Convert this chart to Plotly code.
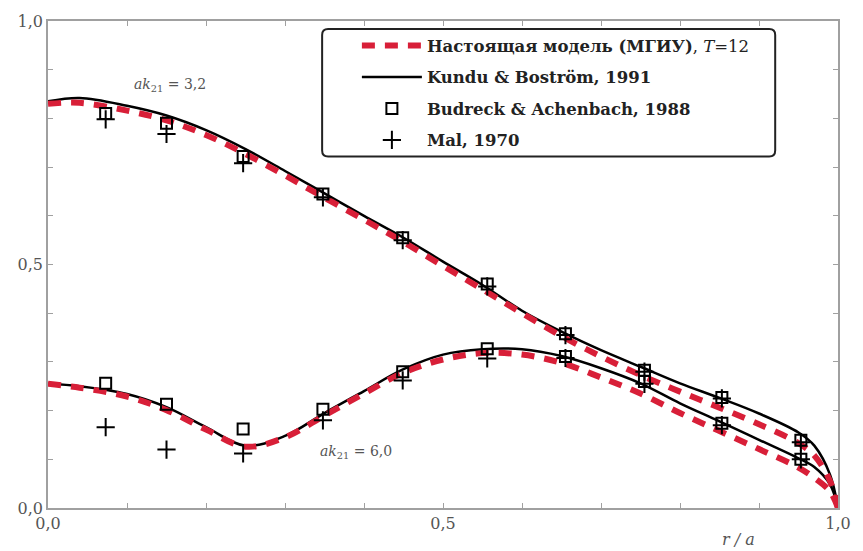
import plotly.graph_objects as go

# ---- data ----
x_curve = [0, 0.04, 0.1, 0.15, 0.2, 0.25, 0.3, 0.35, 0.4, 0.45, 0.5, 0.55, 0.6, 0.65,
           0.7, 0.75, 0.8, 0.85, 0.9, 0.95, 0.97, 0.99, 1.0]

kundu_32 = [0.835, 0.842, 0.826, 0.806, 0.776, 0.737, 0.692, 0.646, 0.600, 0.555, 0.506, 0.458,
            0.405, 0.362, 0.324, 0.290, 0.256, 0.226, 0.194, 0.155, 0.128, 0.068, 0.0]
model_32 = [0.830, 0.832, 0.816, 0.796, 0.766, 0.727, 0.683, 0.637, 0.592, 0.546, 0.497, 0.449,
            0.400, 0.353, 0.311, 0.273, 0.239, 0.206, 0.172, 0.133, 0.108, 0.055, 0.0]

kundu_60 = [0.255, 0.250, 0.234, 0.207, 0.166, 0.128, 0.148, 0.195, 0.240, 0.285, 0.315, 0.326,
            0.326, 0.312, 0.287, 0.256, 0.215, 0.178, 0.140, 0.102, 0.084, 0.048, 0.0]
model_60 = [0.255, 0.247, 0.229, 0.201, 0.161, 0.126, 0.145, 0.190, 0.235, 0.278, 0.305, 0.318,
            0.315, 0.298, 0.268, 0.235, 0.195, 0.158, 0.121, 0.083, 0.062, 0.034, 0.0]

x_pts = [0.073, 0.150, 0.247, 0.348, 0.449, 0.556, 0.655, 0.755, 0.853, 0.953]
budreck_32 = [0.810, 0.790, 0.722, 0.645, 0.555, 0.460, 0.358, 0.283, 0.227, 0.139]
budreck_60 = [0.256, 0.213, 0.162, 0.203, 0.280, 0.327, 0.311, 0.260, 0.174, 0.100]
mal_32 = [0.798, 0.768, 0.708, 0.638, 0.550, 0.455, 0.355, 0.280, 0.225, 0.135]
mal_60 = [0.166, 0.120, 0.112, 0.180, 0.262, 0.307, 0.308, 0.255, 0.170, 0.100]

x_ticks = [0.0, 0.5, 1.0]
x_tick_labels = ["0,0", "0,5", "1,0"]
y_ticks = [0.0, 0.5, 1.0]
y_tick_labels = ["0,0", "0,5", "1,0"]

RED = "#d81f38"
FONT = "DejaVu Serif"
GRAY = "#555555"
AX = "#a0a0a0"

fig = go.Figure()

# black Kundu curves
for i, yv in enumerate([kundu_32, kundu_60]):
    fig.add_trace(go.Scatter(
        x=x_curve, y=yv, mode="lines", line=dict(color="black", width=2.5, shape="spline"),
        name="<b>Kundu & Boström, 1991</b>", legendgroup="b", legendrank=2,
        showlegend=(i == 0)))

# red model curves
for i, yv in enumerate([model_32, model_60]):
    fig.add_trace(go.Scatter(
        x=x_curve, y=yv, mode="lines",
        line=dict(color=RED, width=6, dash="13px,10px", shape="spline"),
        name="<b>Настоящая модель (МГИУ)</b>, <i>T</i>=12", legendgroup="a", legendrank=1,
        showlegend=(i == 0)))

for i, yv in enumerate([budreck_32, budreck_60]):
    fig.add_trace(go.Scatter(
        x=x_pts, y=yv, mode="markers",
        marker=dict(symbol="square-open", size=11, color="black", line=dict(width=2, color="black")),
        name="<b>Budreck & Achenbach, 1988</b>", legendgroup="c", legendrank=3,
        showlegend=(i == 0)))

for i, yv in enumerate([mal_32, mal_60]):
    fig.add_trace(go.Scatter(
        x=x_pts, y=yv, mode="markers",
        marker=dict(symbol="cross-thin-open", size=13, color="black", line=dict(width=2, color="black")),
        name="<b>Mal, 1970</b>", legendgroup="d", legendrank=4,
        showlegend=(i == 0)))

# rounded legend frame
x0, x1, y0, y1 = 0.347, 0.9205, 0.722, 0.9836
rx, ry = 6 / 792, 6 / 489
path = (f"M{x0+rx},{y1} L{x1-rx},{y1} Q{x1},{y1} {x1},{y1-ry} L{x1},{y0+ry} "
        f"Q{x1},{y0} {x1-rx},{y0} L{x0+rx},{y0} Q{x0},{y0} {x0},{y0+ry} "
        f"L{x0},{y1-ry} Q{x0},{y1} {x0+rx},{y1} Z")
fig.add_shape(type="path", path=path, xref="paper", yref="paper",
              line=dict(color="#222222", width=2), fillcolor="white", layer="below")

fig.add_annotation(x=0.155, y=0.869, xref="x", yref="y", showarrow=False,
                   text="<i>ak</i><sub>21</sub> = 3,2",
                   font=dict(family=FONT, size=14, color=GRAY))
fig.add_annotation(x=0.39, y=0.115, xref="x", yref="y", showarrow=False,
                   text="<i>ak</i><sub>21</sub> = 6,0",
                   font=dict(family=FONT, size=14, color=GRAY))
fig.add_annotation(x=0.874, y=-0.064, xref="x", yref="paper", yanchor="middle", showarrow=False,
                   text="<i>r / a</i>", font=dict(family=FONT, size=16, color=GRAY))

axis_common = dict(showgrid=False, zeroline=False, showline=True, linecolor=AX, linewidth=1.5,
                   mirror="ticks", ticks="inside", tickcolor=AX, ticklen=5, tickwidth=1,
                   tickfont=dict(family=FONT, size=16, color=GRAY))

tv = [i / 10 for i in range(11)]
fig.update_xaxes(range=[0, 1], tickmode="array", tickvals=tv,
                 ticktext=[x_tick_labels[x_ticks.index(v)] if v in x_ticks else "" for v in tv],
                 **axis_common)
fig.update_yaxes(range=[0, 1], tickmode="array", tickvals=tv,
                 ticktext=[y_tick_labels[y_ticks.index(v)] if v in y_ticks else "" for v in tv],
                 **axis_common)

fig.update_layout(
    width=863, height=551, margin=dict(l=48, r=23, t=19, b=43),
    paper_bgcolor="white", plot_bgcolor="white",
    showlegend=True,
    legend=dict(x=0.391, y=0.985, xanchor="left", yanchor="top", bgcolor="rgba(0,0,0,0)",
                borderwidth=0, traceorder="grouped", tracegroupgap=7, itemwidth=60,
                font=dict(family=FONT, size=16.5, color="#222222")),
)

fig.write_html("out.html")
